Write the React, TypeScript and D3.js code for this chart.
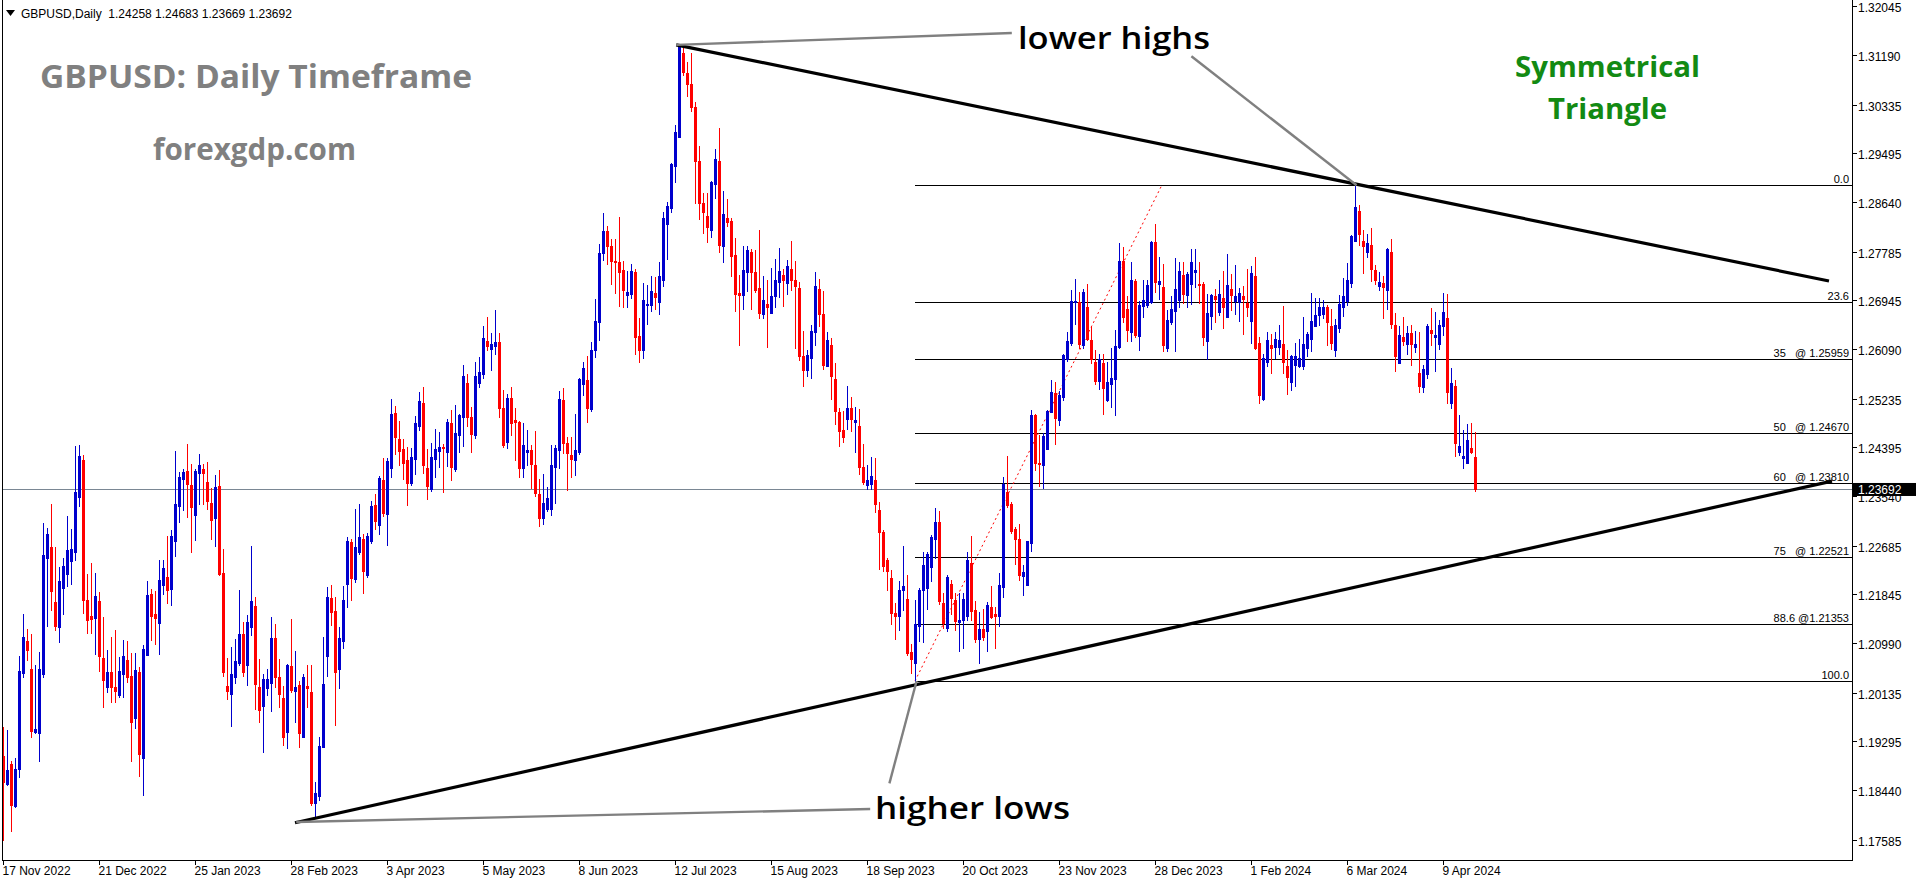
import React, { useEffect, useRef } from 'react';
import * as d3 from 'd3';

// ---- Daily GBPUSD candles (bar 0 = 17 Nov 2022 ... bar 368 = last bar) ----
const opens = [
  1.1907,1.1859,1.1893,1.1820,1.1884,1.2051,1.2107,1.2058,1.1948,1.1947,
  1.2049,1.2251,1.2270,1.2174,1.2131,1.2199,1.2223,1.2245,1.2261,1.2357,
  1.2420,1.2177,1.2150,1.2147,1.2176,1.2077,1.2026,1.2053,1.2027,1.2013,
  1.2049,1.2073,1.2046,1.1973,1.2053,1.1904,1.2082,1.2188,1.2153,1.2138,
  1.2204,1.2217,1.2197,1.2280,1.2341,1.2388,1.2401,1.2377,1.2325,1.2397,
  1.2405,1.2382,1.2346,1.2319,1.2375,1.2224,1.2028,1.2015,1.2044,1.2069,
  1.2118,1.2065,1.2131,1.2167,1.2027,1.1994,1.2025,1.2034,1.2111,1.2044,
  1.2007,1.1949,1.2063,1.2020,1.2030,1.1940,1.2028,1.2018,1.1826,1.1838,
  1.1923,1.2081,1.2181,1.2158,1.2057,1.2107,1.2206,1.2278,1.2214,1.2261,
  1.2283,1.2221,1.2280,1.2342,1.2308,1.2385,1.2327,1.2407,1.2502,1.2457,
  1.2440,1.2420,1.2380,1.2422,1.2479,1.2519,1.2407,1.2370,1.2422,1.2436,
  1.2443,1.2434,1.2485,1.2405,1.2464,1.2495,1.2554,1.2495,1.2464,1.2554,
  1.2570,1.2627,1.2613,1.2618,1.2625,1.2511,1.2452,1.2528,1.2490,1.2486,
  1.2407,1.2434,1.2438,1.2412,1.2361,1.2320,1.2335,1.2335,1.2408,1.2438,
  1.2525,1.2450,1.2429,1.2420,1.2434,1.2552,1.2559,1.2509,1.2611,1.2660,
  1.2780,1.2818,1.2791,1.2765,1.2764,1.2750,1.2707,1.2708,1.2746,1.2636,
  1.2612,1.2690,1.2689,1.2710,1.2695,1.2732,1.2830,1.2857,1.2931,1.2981,
  1.3126,1.3092,1.3072,1.3033,1.2939,1.2867,1.2844,1.2820,1.2900,1.2939,
  1.2792,1.2841,1.2835,1.2776,1.2710,1.2707,1.2747,1.2782,1.2746,1.2719,
  1.2673,1.2691,1.2675,1.2704,1.2729,1.2742,1.2728,1.2751,1.2733,1.2719,
  1.2600,1.2577,1.2598,1.2642,1.2717,1.2674,1.2584,1.2620,1.2561,1.2503,
  1.2473,1.2491,1.2510,1.2486,1.2480,1.2409,1.2377,1.2378,1.2385,1.2334,
  1.2295,1.2247,1.2215,1.2155,1.2150,1.2194,1.2179,1.2088,1.2068,1.2133,
  1.2194,1.2199,1.2235,1.2283,1.2312,1.2172,1.2129,1.2205,1.2177,1.2139,
  1.2142,1.2150,1.2241,1.2160,1.2110,1.2128,1.2124,1.2165,1.2153,1.2149,
  1.2200,1.2364,1.2344,1.2301,1.2283,1.2219,1.2204,1.2276,1.2498,1.2416,
  1.2412,1.2439,1.2504,1.2536,1.2490,1.2530,1.2595,1.2623,1.2695,1.2694,
  1.2620,1.2686,1.2629,1.2591,1.2557,1.2589,1.2524,1.2553,1.2561,1.2617,
  1.2766,1.2682,1.2643,1.2731,1.2636,1.2688,1.2689,1.2695,1.2798,1.2725,
  1.2720,1.2614,1.2660,1.2679,1.2698,1.2741,1.2707,1.2725,1.2747,1.2726,
  1.2726,1.2627,1.2671,1.2705,1.2677,1.2702,1.2669,1.2717,1.2697,1.2695,
  1.2704,1.2693,1.2661,1.2739,1.2623,1.2526,1.2591,1.2620,1.2616,1.2617,
  1.2622,1.2583,1.2556,1.2585,1.2583,1.2583,1.2615,1.2630,1.2653,1.2672,
  1.2674,1.2686,1.2652,1.2611,1.2650,1.2685,1.2696,1.2728,1.2801,1.2852,
  1.2800,1.2782,1.2793,1.2750,1.2722,1.2727,1.2715,1.2781,1.2654,1.2589,
  1.2633,1.2622,1.2641,1.2617,1.2571,1.2547,1.2570,1.2646,1.2633,1.2622,
  1.2653,1.2667,1.2519,1.2549,1.2435,1.2424,1.2416,1.2441,1.24258,
];
const highs = [
  1.1958,1.1952,1.1899,1.1903,1.2080,1.2153,1.2127,1.2118,1.2065,1.2087,
  1.2311,1.2302,1.2344,1.2270,1.2235,1.2250,1.2323,1.2300,1.2445,1.2446,
  1.2429,1.2223,1.2241,1.2224,1.2191,1.2148,1.2091,1.2113,1.2126,1.2079,
  1.2108,1.2106,1.2085,1.2085,1.2061,1.2099,1.2210,1.2197,1.2193,1.2247,
  1.2247,1.2289,1.2299,1.2436,1.2400,1.2405,1.2448,1.2413,1.2405,1.2431,
  1.2413,1.2417,1.2372,1.2394,1.2403,1.2266,1.2077,1.2096,1.2110,1.2195,
  1.2140,1.2151,1.2271,1.2183,1.2075,1.2049,1.2058,1.2148,1.2136,1.2075,
  1.2028,1.2067,1.2144,1.2089,1.2037,1.2049,1.2065,1.2065,1.1861,1.1940,
  1.2113,1.2200,1.2204,1.2183,1.2130,1.2202,1.2286,1.2284,1.2335,1.2344,
  1.2292,1.2293,1.2349,1.2362,1.2393,1.2424,1.2423,1.2526,1.2514,1.2488,
  1.2457,1.2443,1.2441,1.2497,1.2538,1.2547,1.2439,1.2450,1.2474,1.2469,
  1.2448,1.2492,1.2507,1.2516,1.2500,1.2585,1.2570,1.2512,1.2590,1.2599,
  1.2653,1.2668,1.2641,1.2681,1.2641,1.2542,1.2535,1.2547,1.2511,1.2488,
  1.2485,1.2472,1.2446,1.2471,1.2387,1.2396,1.2374,1.2446,1.2446,1.2540,
  1.2545,1.2460,1.2460,1.2500,1.2563,1.2590,1.2601,1.2625,1.2700,1.2795,
  1.2848,1.2826,1.2803,1.2803,1.2842,1.2766,1.2748,1.2761,1.2751,1.2667,
  1.2728,1.2724,1.2740,1.2737,1.2764,1.2851,1.2868,1.2936,1.3002,1.3142,
  1.3136,1.3110,1.3126,1.3041,1.2965,1.2883,1.2883,1.2905,1.2960,1.2996,
  1.2887,1.2873,1.2841,1.2806,1.2741,1.2792,1.2791,1.2787,1.2785,1.2820,
  1.2740,1.2733,1.2754,1.2769,1.2789,1.2751,1.2767,1.2801,1.2766,1.2729,
  1.2645,1.2611,1.2655,1.2746,1.2735,1.2714,1.2642,1.2632,1.2589,1.2510,
  1.2506,1.2549,1.2530,1.2513,1.2508,1.2448,1.2411,1.2426,1.2423,1.2347,
  1.2299,1.2250,1.2230,1.2172,1.2210,1.2271,1.2221,1.2101,1.2177,1.2198,
  1.2261,1.2260,1.2291,1.2337,1.2332,1.2189,1.2220,1.2212,1.2189,1.2189,
  1.2189,1.2260,1.2289,1.2176,1.2156,1.2162,1.2174,1.2201,1.2165,1.2225,
  1.2390,1.2428,1.2347,1.2304,1.2309,1.2238,1.2280,1.2507,1.2501,1.2464,
  1.2467,1.2507,1.2559,1.2556,1.2540,1.2605,1.2642,1.2716,1.2734,1.2712,
  1.2717,1.2725,1.2651,1.2612,1.2605,1.2604,1.2590,1.2615,1.2646,1.2796,
  1.2790,1.2704,1.2764,1.2734,1.2697,1.2733,1.2732,1.2800,1.2829,1.2772,
  1.2760,1.2681,1.2704,1.2771,1.2763,1.2764,1.2746,1.2786,1.2786,1.2764,
  1.2730,1.2708,1.2708,1.2717,1.2733,1.2748,1.2778,1.2743,1.2759,1.2719,
  1.2722,1.2752,1.2757,1.2772,1.2634,1.2604,1.2642,1.2639,1.2642,1.2654,
  1.2688,1.2611,1.2602,1.2624,1.2630,1.2668,1.2642,1.2710,1.2701,1.2701,
  1.2698,1.2689,1.2682,1.2665,1.2707,1.2736,1.2762,1.2811,1.2897,1.2863,
  1.2819,1.2812,1.2823,1.2759,1.2746,1.2739,1.2788,1.2804,1.2675,1.2653,
  1.2668,1.2653,1.2654,1.2644,1.2643,1.2585,1.2656,1.2684,1.2677,1.2663,
  1.2710,1.2708,1.2580,1.2559,1.2498,1.2472,1.2483,1.2484,1.24683,
];
const lows = [
  1.1761,1.1857,1.1777,1.1818,1.1871,1.2044,1.2073,1.1939,1.1946,1.1899,
  1.2044,1.2132,1.2160,1.2125,1.2105,1.2153,1.2202,1.2206,1.2247,1.2341,
  1.2155,1.2120,1.2121,1.2084,1.2055,1.1991,1.2017,1.2001,1.2001,1.2010,
  1.2010,1.2035,1.1899,1.1956,1.1873,1.1840,1.2082,1.2108,1.2101,1.2084,
  1.2188,1.2172,1.2168,1.2254,1.2312,1.2334,1.2321,1.2261,1.2282,1.2344,
  1.2344,1.2335,1.2284,1.2272,1.2221,1.2046,1.2005,1.1959,1.2033,1.2065,
  1.2046,1.2030,1.2116,1.1988,1.1965,1.1914,1.2013,1.1985,1.2027,1.1991,
  1.1926,1.1921,1.2017,1.1965,1.1923,1.1940,1.1992,1.1821,1.1802,1.1830,
  1.1923,1.2046,1.2134,1.1960,1.2025,1.2095,1.2166,1.2178,1.2208,1.2258,
  1.2190,1.2218,1.2276,1.2301,1.2292,1.2323,1.2273,1.2391,1.2431,1.2412,
  1.2387,1.2342,1.2377,1.2396,1.2472,1.2398,1.2353,1.2367,1.2391,1.2408,
  1.2365,1.2410,1.2386,1.2401,1.2434,1.2445,1.2479,1.2434,1.2459,1.2547,
  1.2563,1.2611,1.2577,1.2604,1.2495,1.2443,1.2441,1.2464,1.2420,1.2391,
  1.2391,1.2412,1.2372,1.2358,1.2306,1.2309,1.2332,1.2325,1.2346,1.2407,
  1.2433,1.2368,1.2391,1.2394,1.2431,1.2533,1.2486,1.2505,1.2599,1.2629,
  1.2768,1.2760,1.2725,1.2710,1.2688,1.2685,1.2686,1.2702,1.2605,1.2590,
  1.2598,1.2657,1.2678,1.2683,1.2673,1.2723,1.2769,1.2851,1.2903,1.2981,
  1.3089,1.3051,1.3026,1.2867,1.2839,1.2815,1.2799,1.2808,1.2875,1.2782,
  1.2764,1.2827,1.2740,1.2679,1.2619,1.2683,1.2713,1.2683,1.2711,1.2667,
  1.2666,1.2616,1.2675,1.2686,1.2703,1.2688,1.2709,1.2716,1.2614,1.2593,
  1.2548,1.2566,1.2562,1.2619,1.2652,1.2578,1.2584,1.2527,1.2482,1.2445,
  1.2451,1.2474,1.2471,1.2434,1.2396,1.2379,1.2370,1.2370,1.2330,1.2231,
  1.2228,1.2194,1.2135,1.2110,1.2125,1.2160,1.2082,1.2051,1.2037,1.2107,
  1.2105,1.2162,1.2210,1.2250,1.2171,1.2129,1.2124,1.2154,1.2125,1.2089,
  1.2094,1.2143,1.2143,1.2105,1.2069,1.2108,1.2089,1.2147,1.2095,1.2133,
  1.2183,1.2338,1.2293,1.2240,1.2213,1.2186,1.2204,1.2263,1.2403,1.2376,
  1.2372,1.2439,1.2503,1.2448,1.2481,1.2524,1.2592,1.2620,1.2657,1.2614,
  1.2614,1.2629,1.2588,1.2552,1.2543,1.2501,1.2523,1.2512,1.2498,1.2615,
  1.2660,1.2627,1.2627,1.2633,1.2611,1.2669,1.2686,1.2693,1.2712,1.2700,
  1.2610,1.2610,1.2656,1.2610,1.2686,1.2692,1.2685,1.2691,1.2720,1.2692,
  1.2619,1.2596,1.2648,1.2660,1.2672,1.2649,1.2669,1.2681,1.2674,1.2662,
  1.2639,1.2671,1.2624,1.2613,1.2519,1.2524,1.2583,1.2571,1.2598,1.2604,
  1.2572,1.2535,1.2541,1.2549,1.2581,1.2578,1.2601,1.2609,1.2652,1.2654,
  1.2666,1.2620,1.2613,1.2600,1.2642,1.2671,1.2689,1.2720,1.2800,1.2794,
  1.2745,1.2773,1.2731,1.2726,1.2715,1.2667,1.2682,1.2650,1.2574,1.2589,
  1.2620,1.2605,1.2585,1.2608,1.2539,1.2539,1.2562,1.2620,1.2574,1.2613,
  1.2638,1.2520,1.2510,1.2427,1.2429,1.2406,1.2416,1.2433,1.23669,
];
const closes = [
  1.1862,1.1883,1.1822,1.1884,1.2055,1.2113,1.2090,1.1951,1.1954,1.2058,
  1.2255,1.2292,1.2193,1.2132,1.2210,1.2237,1.2264,1.2266,1.2365,1.2427,
  1.2177,1.2142,1.2145,1.2184,1.2081,1.2039,1.2053,1.2027,1.2019,1.2054,
  1.2080,1.2044,1.1966,1.2056,1.1910,1.2092,1.2186,1.2150,1.2147,1.2212,
  1.2233,1.2195,1.2289,1.2344,1.2391,1.2400,1.2378,1.2338,1.2402,1.2412,
  1.2397,1.2350,1.2317,1.2373,1.2223,1.2053,1.2020,1.2049,1.2072,1.2118,
  1.2053,1.2140,1.2176,1.2032,1.1987,1.2040,1.2040,1.2111,1.2044,1.2014,
  1.1939,1.2064,1.2022,1.2027,1.1947,1.2044,1.2025,1.1826,1.1843,1.1924,
  1.2032,1.2183,1.2157,1.2053,1.2112,1.2178,1.2280,1.2216,1.2270,1.2287,
  1.2228,1.2289,1.2341,1.2315,1.2389,1.2328,1.2419,1.2500,1.2460,1.2436,
  1.2415,1.2380,1.2426,1.2485,1.2523,1.2412,1.2376,1.2426,1.2440,1.2443,
  1.2441,1.2486,1.2408,1.2467,1.2498,1.2566,1.2495,1.2466,1.2566,1.2573,
  1.2632,1.2618,1.2622,1.2625,1.2511,1.2446,1.2528,1.2485,1.2486,1.2407,
  1.2446,1.2438,1.2414,1.2363,1.2320,1.2346,1.2354,1.2412,1.2441,1.2526,
  1.2450,1.2433,1.2422,1.2438,1.2561,1.2580,1.2511,1.2611,1.2662,1.2780,
  1.2818,1.2791,1.2765,1.2764,1.2747,1.2715,1.2712,1.2748,1.2634,1.2612,
  1.2698,1.2691,1.2714,1.2703,1.2740,1.2841,1.2861,1.2933,1.2989,1.3136,
  1.3093,1.3072,1.3033,1.2939,1.2867,1.2851,1.2824,1.2903,1.2942,1.2794,
  1.2847,1.2834,1.2775,1.2709,1.2707,1.2750,1.2785,1.2747,1.2716,1.2675,
  1.2698,1.2686,1.2705,1.2733,1.2748,1.2732,1.2757,1.2732,1.2722,1.2600,
  1.2577,1.2603,1.2644,1.2722,1.2673,1.2586,1.2629,1.2566,1.2506,1.2470,
  1.2461,1.2510,1.2492,1.2490,1.2409,1.2383,1.2386,1.2393,1.2344,1.2295,
  1.2236,1.2228,1.2155,1.2150,1.2195,1.2202,1.2085,1.2075,1.2136,1.2194,
  1.2238,1.2257,1.2286,1.2313,1.2175,1.2138,1.2218,1.2181,1.2141,1.2143,
  1.2180,1.2247,1.2158,1.2110,1.2127,1.2114,1.2168,1.2148,1.2150,1.2204,
  1.2379,1.2343,1.2297,1.2283,1.2221,1.2226,1.2279,1.2498,1.2416,1.2413,
  1.2462,1.2505,1.2538,1.2494,1.2533,1.2603,1.2627,1.2697,1.2697,1.2621,
  1.2711,1.2630,1.2595,1.2557,1.2595,1.2545,1.2556,1.2562,1.2618,1.2766,
  1.2668,1.2646,1.2733,1.2638,1.2690,1.2698,1.2724,1.2799,1.2730,1.2731,
  1.2619,1.2664,1.2682,1.2717,1.2749,1.2708,1.2743,1.2763,1.2750,1.2724,
  1.2634,1.2676,1.2706,1.2700,1.2708,1.2686,1.2724,1.2707,1.2704,1.2710,
  1.2699,1.2685,1.2745,1.2614,1.2533,1.2597,1.2629,1.2614,1.2630,1.2629,
  1.2591,1.2565,1.2601,1.2601,1.2598,1.2622,1.2639,1.2661,1.2672,1.2686,
  1.2686,1.2660,1.2624,1.2654,1.2691,1.2705,1.2733,1.2809,1.2859,1.2813,
  1.2792,1.2797,1.2752,1.2733,1.2729,1.2720,1.2786,1.2657,1.2600,1.2638,
  1.2627,1.2641,1.2622,1.2622,1.2549,1.2578,1.2653,1.2641,1.2638,1.2654,
  1.2677,1.2538,1.2554,1.2449,1.2445,1.2428,1.2455,1.2435,1.23692,
];

// ---- axes ----
const xTickLabels = [
  '17 Nov 2022','21 Dec 2022','25 Jan 2023','28 Feb 2023','3 Apr 2023','5 May 2023',
  '8 Jun 2023','12 Jul 2023','15 Aug 2023','18 Sep 2023','20 Oct 2023','23 Nov 2023',
  '28 Dec 2023','1 Feb 2024','6 Mar 2024','9 Apr 2024',
];
const barsPerXLabel = 24;
const yTickValues = [
  1.32045,1.31190,1.30335,1.29495,1.28640,1.27785,1.26945,1.26090,1.25235,
  1.24395,1.23540,1.22685,1.21845,1.20990,1.20135,1.19295,1.18440,1.17585,
];
const priceDomain = [1.17585, 1.32045];
const currentPrice = 1.23692;
const headerText = 'GBPUSD,Daily  1.24258 1.24683 1.23669 1.23692';

// ---- Fibonacci retracement ----
const fibLevels = [1.28970, 1.26941, 1.25959, 1.24670, 1.23810, 1.22521, 1.21353, 1.20370];
const fibLabels = ['0.0', '23.6', '35   @ 1.25959', '50   @ 1.24670', '60   @ 1.23810', '75   @ 1.22521', '88.6 @1.21353', '100.0'];
const fibStartBar = 228;
const fibBaseLine = [{ bar: 228, price: 1.2037 }, { bar: 289.7, price: 1.2897 }];

// ---- trend lines & callouts (bar index, price) ----
const upperTrend = [{ bar: 168.3, price: 1.31405 }, { bar: 456.5, price: 1.27309 }];
const lowerTrend = [{ bar: 73, price: 1.17911 }, { bar: 457.25, price: 1.23836 }];
const callouts = [
  [{ bar: 168.3, price: 1.31405 }, { bar: 252.2, price: 1.31611 }],
  [{ bar: 338.4, price: 1.2897 }, { bar: 297.1, price: 1.31208 }],
  [{ bar: 228.4, price: 1.2037 }, { bar: 221.6, price: 1.18594 }],
  [{ bar: 73.3, price: 1.17924 }, { bar: 216.8, price: 1.18149 }],
];

const AXIS_FONT = "'Liberation Sans', Arial, sans-serif";
const BIG_FONT = "'Open Sans', 'Liberation Sans', sans-serif";

export default function App() {
  const ref = useRef<SVGSVGElement>(null);

  useEffect(() => {
    const W = 1916, H = 884;
    const left = 2, right = 1852, bottom = 860;
    const svg = d3.select(ref.current as SVGSVGElement);
    svg.selectAll('*').remove();

    const n = closes.length;
    const x = d3.scaleLinear().domain([0, n - 1]).range([3, 3 + 4 * (n - 1)]);
    const y = d3.scaleLinear().domain(priceDomain).range([841.5, 8]);

    svg.append('rect').attr('width', W).attr('height', H).attr('fill', '#ffffff');

    const data = closes.map((c, i) => ({ i, o: opens[i], h: highs[i], l: lows[i], c }));

    // current price line
    svg.append('line')
      .attr('x1', left).attr('x2', right)
      .attr('y1', Math.round(y(currentPrice)) + 0.5).attr('y2', Math.round(y(currentPrice)) + 0.5)
      .attr('stroke', '#7a8794').attr('stroke-width', 1);

    // fib lines
    const fibG = svg.append('g');
    fibLevels.forEach((lv, k) => {
      const yy = Math.round(y(lv)) + 0.5;
      fibG.append('line').attr('x1', x(fibStartBar)).attr('x2', right)
        .attr('y1', yy).attr('y2', yy).attr('stroke', '#000').attr('stroke-width', 1);
      fibG.append('text').attr('x', right - 3).attr('y', yy - 3)
        .attr('text-anchor', 'end').attr('font-family', AXIS_FONT).attr('font-size', 11)
        .style('white-space', 'pre').attr('fill', '#000').text(fibLabels[k]);
    });

    // red dotted fib base line
    const line = d3.line<{ bar: number; price: number }>().x(d => x(d.bar)).y(d => y(d.price));
    svg.append('path').attr('d', line(fibBaseLine) as string).attr('fill', 'none')
      .attr('stroke', '#ff0000').attr('stroke-width', 1).attr('stroke-dasharray', '2 3');

    // candles
    const cg = svg.append('g').attr('shape-rendering', 'crispEdges');
    data.forEach(d => {
      const col = d.c >= d.o ? '#0000cd' : '#ff0000';
      const cx = Math.round(x(d.i));
      const top = Math.round(y(Math.max(d.o, d.c)));
      const bot = Math.round(y(Math.min(d.o, d.c)));
      const hi = Math.round(y(Math.max(d.h, d.o, d.c)));
      const lo = Math.round(y(Math.min(d.l, d.o, d.c)));
      cg.append('rect').attr('x', cx).attr('y', hi).attr('width', 1).attr('height', Math.max(1, lo - hi + 1)).attr('fill', col);
      cg.append('rect').attr('x', cx - 1).attr('y', top).attr('width', 3).attr('height', Math.max(1, bot - top + 1)).attr('fill', col);
    });

    // trend lines
    [upperTrend, lowerTrend].forEach(t => {
      svg.append('path').attr('d', line(t) as string).attr('fill', 'none')
        .attr('stroke', '#000').attr('stroke-width', 3.2).attr('stroke-linecap', 'butt');
    });
    callouts.forEach(t => {
      svg.append('path').attr('d', line(t) as string).attr('fill', 'none')
        .attr('stroke', '#808080').attr('stroke-width', 2.4);
    });

    // frame
    const fr = svg.append('g').attr('shape-rendering', 'crispEdges');
    fr.append('line').attr('x1', left + 0.5).attr('x2', left + 0.5).attr('y1', 0).attr('y2', bottom + 1).attr('stroke', '#000');
    fr.append('line').attr('x1', right + 0.5).attr('x2', right + 0.5).attr('y1', 0).attr('y2', bottom + 1).attr('stroke', '#000');
    fr.append('line').attr('x1', left).attr('x2', right + 1).attr('y1', bottom + 0.5).attr('y2', bottom + 0.5).attr('stroke', '#000');

    // y axis
    yTickValues.forEach(v => {
      const yy = Math.round(y(v));
      fr.append('line').attr('x1', right).attr('x2', right + 5).attr('y1', yy - 1.5).attr('y2', yy - 1.5).attr('stroke', '#000');
      svg.append('text').attr('x', right + 6).attr('y', yy).attr('dy', '0.35em')
        .attr('font-family', AXIS_FONT).attr('font-size', 12).attr('fill', '#000').text(v.toFixed(5));
    });
    // current price box
    const cy = y(currentPrice);
    svg.append('rect').attr('x', right + 1).attr('y', cy - 6.5).attr('width', W - right - 1).attr('height', 13).attr('fill', '#000');
    svg.append('text').attr('x', right + 6).attr('y', cy).attr('dy', '0.35em')
      .attr('font-family', AXIS_FONT).attr('font-size', 12).attr('fill', '#fff').text(currentPrice.toFixed(5));

    // x axis
    xTickLabels.forEach((lab, k) => {
      const xx = Math.round(x(k * barsPerXLabel)) + 0.5;
      fr.append('line').attr('x1', xx).attr('x2', xx).attr('y1', bottom).attr('y2', bottom + 5).attr('stroke', '#000');
      svg.append('text').attr('x', xx - 1).attr('y', 875)
        .attr('font-family', AXIS_FONT).attr('font-size', 12).attr('fill', '#000').text(lab);
    });

    // header
    svg.append('path').attr('d', 'M6,10 L15,10 L10.5,16 Z').attr('fill', '#000');
    svg.append('text').attr('x', 21).attr('y', 17.5).attr('font-family', AXIS_FONT)
      .attr('font-size', 12).attr('fill', '#000').style('white-space', 'pre').text(headerText);

    // big annotations
    const big = (txt: string, xx: number, yy: number, size: number, len: number, fill: string, weight: number) => {
      svg.append('text').attr('x', xx).attr('y', yy).attr('font-family', BIG_FONT)
        .attr('font-size', size).attr('font-weight', weight).attr('fill', fill)
        .attr('textLength', len).attr('lengthAdjust', 'spacingAndGlyphs').text(txt);
    };
    big('GBPUSD: Daily Timeframe', 40, 88, 32, 432, '#808080', 700);
    big('forexgdp.com', 153, 160, 30, 203, '#808080', 700);
    big('Symmetrical', 1515, 77, 28, 185, '#138a13', 700);
    big('Triangle', 1548, 119, 28, 119, '#138a13', 700);
    big('lower highs', 1018, 49, 31, 192, '#000', 600);
    big('higher lows', 875, 819, 31, 195, '#000', 600);
  }, []);

  return (
    <div style={{ position: 'absolute', left: 0, top: 0 }}>
      <svg ref={ref} width={1916} height={884} style={{ display: 'block' }} />
    </div>
  );
}
